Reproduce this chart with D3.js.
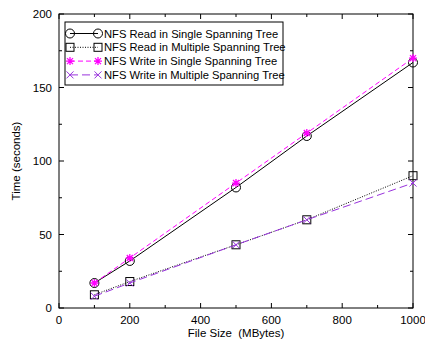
<!DOCTYPE html>
<html>
<head>
<meta charset="utf-8">
<script src="https://cdn.jsdelivr.net/npm/d3@7"></script>
<style>
  body { margin: 0; background: #fff; }
  svg { font-family: "Liberation Sans", Arial, sans-serif; }
</style>
</head>
<body>
<svg id="chart" width="425" height="343"></svg>
<script>
var svg = d3.select("#chart");

// data
var fileSizes = [100, 200, 500, 700, 1000];
var readSingle = [17, 32, 82, 117, 167];
var readMultiple = [9, 18, 43, 60, 90];
var writeSingle = [17, 34, 85, 119, 170];
var writeMultiple = [8, 17, 43, 60, 85];
var xTicks = [0, 200, 400, 600, 800, 1000];
var yTicks = [0, 50, 100, 150, 200];

var seriesNames = [
    "NFS Read in Single Spanning Tree",
    "NFS Read in Multiple Spanning Tree",
    "NFS Write in Single Spanning Tree",
    "NFS Write in Multiple Spanning Tree"
];

var series = [
    { name: seriesNames[0], values: readSingle, color: "#000", dash: null, marker: "circle" },
    { name: seriesNames[1], values: readMultiple, color: "#000", dash: "1,1.5", marker: "square" },
    { name: seriesNames[2], values: writeSingle, color: "#ff00ff", dash: "5,3", marker: "star" },
    { name: seriesNames[3], values: writeMultiple, color: "#9933dd", dash: "8,4", marker: "cross" }
];

// plot box edges
var pLeft = 59, pRight = 413, pTop = 14, pBottom = 308;

var x = d3.scaleLinear().domain([0, 1000]).range([pLeft, pRight]);
var y = d3.scaleLinear().domain([0, 200]).range([pBottom, pTop]);

// inward ticks on all four sides
var g = svg.append("g");
var minorX = d3.range(0, 1001, 100);
var minorY = d3.range(0, 201, 25);

minorX.forEach(function(v) {
    var len = (v % 200 == 0) ? 5 : 3;
    g.append("line").attr("x1", x(v)).attr("x2", x(v)).attr("y1", pBottom).attr("y2", pBottom - len).attr("stroke", "#000");
    g.append("line").attr("x1", x(v)).attr("x2", x(v)).attr("y1", pTop).attr("y2", pTop + len).attr("stroke", "#000");
});
minorY.forEach(function(v) {
    var len = (v % 50 == 0) ? 5 : 3;
    g.append("line").attr("x1", pLeft).attr("x2", pLeft + len).attr("y1", y(v)).attr("y2", y(v)).attr("stroke", "#000");
    g.append("line").attr("x1", pRight).attr("x2", pRight - len).attr("y1", y(v)).attr("y2", y(v)).attr("stroke", "#000");
});

svg.append("rect")
    .attr("x", pLeft).attr("y", pTop)
    .attr("width", pRight - pLeft).attr("height", pBottom - pTop)
    .attr("fill", "none").attr("stroke", "#000").attr("stroke-width", 1);

// tick labels
svg.selectAll(".xl").data(xTicks).enter().append("text")
    .attr("x", function(d) { return x(d); })
    .attr("y", pBottom + 16)
    .attr("text-anchor", "middle")
    .attr("font-size", "11.5px")
    .text(function(d) { return d; });

svg.selectAll(".yl").data(yTicks).enter().append("text")
    .attr("x", pLeft - 7)
    .attr("y", function(d) { return y(d) + 4; })
    .attr("text-anchor", "end")
    .attr("font-size", "11.5px")
    .text(function(d) { return d; });

// axis titles
svg.append("text")
    .attr("x", 236).attr("y", 337)
    .attr("text-anchor", "middle")
    .attr("font-size", "11.5px")
    .attr("xml:space", "preserve")
    .text("File Size  (MBytes)");

svg.append("text")
    .attr("transform", "translate(20," + ((pTop + pBottom) / 2) + ") rotate(-90)")
    .attr("text-anchor", "middle")
    .attr("font-size", "11.5px")
    .text("Time (seconds)");

function drawMarker(sel, type, color) {
    if (type == "circle") {
        sel.append("circle").attr("r", 4.5).attr("fill", "none").attr("stroke", color);
    } else if (type == "square") {
        sel.append("rect").attr("x", -4).attr("y", -4).attr("width", 8).attr("height", 8)
            .attr("fill", "none").attr("stroke", color);
    } else if (type == "star") {
        sel.append("path").attr("d", "M-4,0H4M0,-4V4M-3,-3L3,3M-3,3L3,-3")
            .attr("stroke", color).attr("stroke-width", 1.3);
    } else if (type == "cross") {
        sel.append("path").attr("d", "M-3.5,-3.5L3.5,3.5M-3.5,3.5L3.5,-3.5")
            .attr("stroke", color);
    }
}

var line = d3.line()
    .x(function(d, i) { return x(fileSizes[i]); })
    .y(function(d) { return y(d); });

series.forEach(function(s) {
    svg.append("path")
        .attr("d", line(s.values))
        .attr("fill", "none")
        .attr("stroke", s.color)
        .attr("stroke-width", 1)
        .attr("stroke-dasharray", s.dash);

    s.values.forEach(function(v, i) {
        var m = svg.append("g").attr("transform", "translate(" + x(fileSizes[i]) + "," + y(v) + ")");
        drawMarker(m, s.marker, s.color);
    });
});

// legend
svg.append("rect")
    .attr("x", 65).attr("y", 22)
    .attr("width", 218).attr("height", 63)
    .attr("fill", "#fff").attr("stroke", "#000");

series.forEach(function(s, i) {
    var ly = 33.5 + i * 13.8;
    svg.append("line")
        .attr("x1", 70).attr("x2", 98).attr("y1", ly).attr("y2", ly)
        .attr("stroke", s.color)
        .attr("stroke-dasharray", s.dash);
    [70, 98].forEach(function(px) {
        var m = svg.append("g").attr("transform", "translate(" + px + "," + ly + ")");
        drawMarker(m, s.marker, s.color);
    });
    svg.append("text")
        .attr("x", 104).attr("y", ly + 4)
        .attr("font-size", "11.2px")
        .text(s.name);
});
</script>
</body>
</html>
